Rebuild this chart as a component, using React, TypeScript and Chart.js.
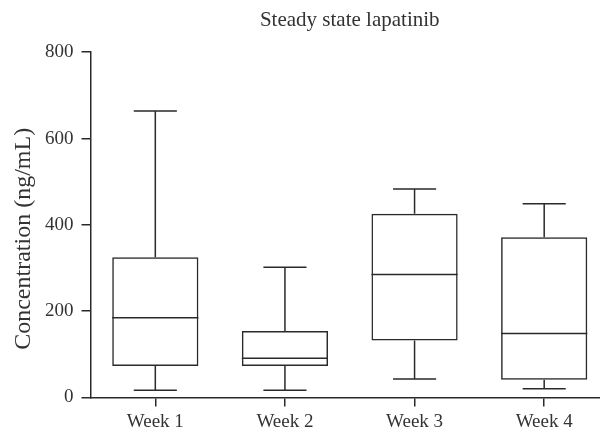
import React, { useEffect, useRef } from "react";
import { Chart, registerables } from "chart.js";

Chart.register(...registerables);

const categories = ["Week 1", "Week 2", "Week 3", "Week 4"];
const minValues = [17, 17, 43, 20];
const q1Values = [73, 73, 132, 41];
const medianValues = [185, 91, 285, 148];
const q3Values = [325, 154, 426, 371];
const maxValues = [664, 302, 483, 449];
const yTicks = [0, 200, 400, 600, 800];
const chartTitle = "Steady state lapatinib";
const yAxisTitle = "Concentration (ng/mL)";

const INK = "#2a2a2a";
const TEXT = "#333333";
const LW = 1.5;
const FONT = "'Liberation Serif', 'Times New Roman', serif";

const boxPlugin = {
  id: "boxWhiskers",
  afterDatasetsDraw(chart: any) {
    const ctx = chart.ctx;
    const meta = chart.getDatasetMeta(0);
    const y = chart.scales.y;
    ctx.save();
    ctx.strokeStyle = INK;
    ctx.lineWidth = LW;
    meta.data.forEach((bar: any, i: number) => {
      const x = bar.x;
      const w = bar.width;
      const yMed = y.getPixelForValue(medianValues[i]);
      const yQ1 = y.getPixelForValue(q1Values[i]);
      const yQ3 = y.getPixelForValue(q3Values[i]);
      const yMin = y.getPixelForValue(minValues[i]);
      const yMax = y.getPixelForValue(maxValues[i]);
      ctx.beginPath();
      ctx.moveTo(x - w / 2, yMed);
      ctx.lineTo(x + w / 2, yMed);
      ctx.moveTo(x, yQ3);
      ctx.lineTo(x, yMax);
      ctx.moveTo(x - w / 4, yMax);
      ctx.lineTo(x + w / 4, yMax);
      ctx.moveTo(x, yQ1);
      ctx.lineTo(x, yMin);
      ctx.moveTo(x - w / 4, yMin);
      ctx.lineTo(x + w / 4, yMin);
      ctx.stroke();
    });
    ctx.restore();
  },
  afterDraw(chart: any) {
    const ctx = chart.ctx;
    const a = chart.chartArea;
    ctx.save();
    ctx.fillStyle = TEXT;
    ctx.font = `24px ${FONT}`;
    ctx.textAlign = "center";
    ctx.textBaseline = "middle";
    ctx.translate(a.left - 67, (a.top + a.bottom) / 2 + 14);
    ctx.rotate(-Math.PI / 2);
    ctx.fillText(yAxisTitle, 0, 0);
    ctx.restore();
  },
};

export default function App() {
  const ref = useRef<HTMLCanvasElement | null>(null);
  useEffect(() => {
    if (!ref.current) return;
    Chart.defaults.font.family = FONT;
    Chart.defaults.color = TEXT;
    const chart = new Chart(ref.current, {
      type: "bar",
      data: {
        labels: categories,
        datasets: [
          {
            data: q1Values.map((q, i) => [q, q3Values[i]]) as any,
            backgroundColor: "rgba(255,255,255,0)",
            borderColor: INK,
            borderWidth: LW,
            borderSkipped: false,
            barPercentage: 0.665,
            categoryPercentage: 1,
          },
        ],
      },
      options: {
        animation: false,
        responsive: true,
        maintainAspectRatio: false,
        layout: { padding: { left: 0, right: 1, top: 0, bottom: 0 } },
        plugins: {
          legend: { display: false },
          tooltip: { enabled: false },
          title: {
            display: true,
            text: chartTitle,
            fullSize: false,
            color: TEXT,
            font: { size: 21, weight: "normal" },
            padding: { top: 0, bottom: 19 },
          },
        },
        scales: {
          x: {
            grid: {
              offset: false,
              drawOnChartArea: false,
              drawTicks: true,
              tickLength: 9,
              color: INK,
              lineWidth: LW,
            },
            border: { display: true, color: INK, width: LW },
            ticks: { color: TEXT, font: { size: 19 }, padding: 4 },
            afterFit(scale: any) {
              scale.height = 32.5;
            },
          },
          y: {
            min: 0,
            max: 800,
            afterBuildTicks(scale: any) {
              scale.ticks = yTicks.map((v) => ({ value: v }));
            },
            grid: {
              drawOnChartArea: false,
              drawTicks: true,
              tickLength: 9,
              color: INK,
              lineWidth: LW,
            },
            border: { display: true, color: INK, width: LW },
            ticks: { color: TEXT, font: { size: 19 }, padding: 8 },
            afterFit(scale: any) {
              scale.width = 82.5;
            },
          },
        },
      },
      plugins: [boxPlugin],
    });
    return () => chart.destroy();
  }, []);
  return (
    <div
      style={{
        position: "fixed",
        left: 8,
        top: 8,
        width: 592,
        height: 422,
        overflow: "hidden",
      }}
    >
      <div style={{ width: 602, height: 422, position: "relative" }}>
        <canvas ref={ref} />
      </div>
    </div>
  );
}
